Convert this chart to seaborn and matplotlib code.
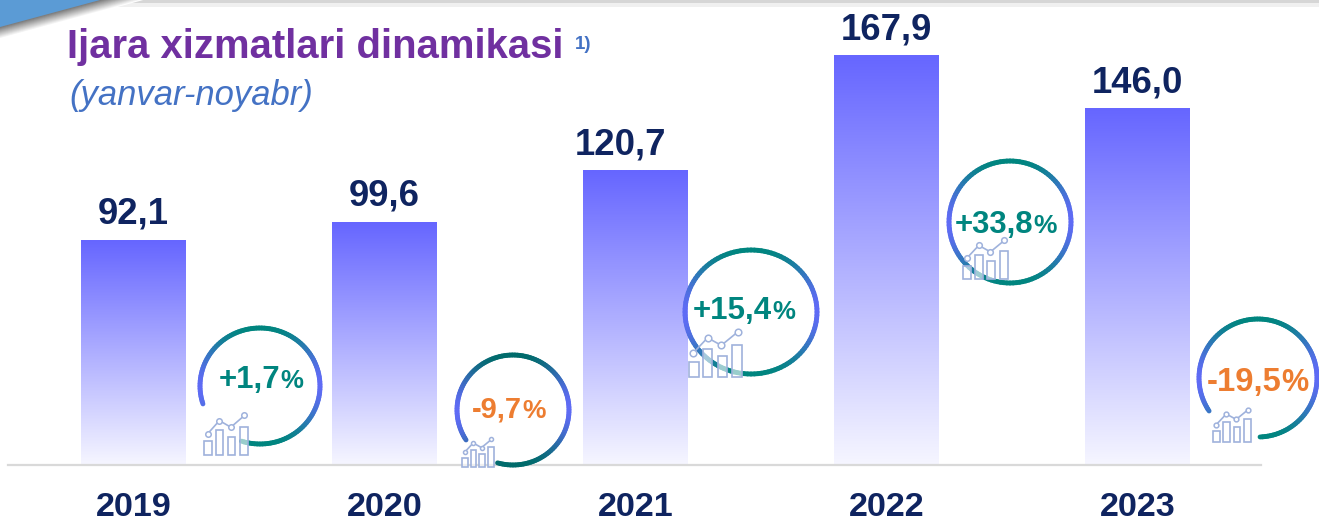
import numpy as np
import pandas as pd
import matplotlib
matplotlib.use('Agg')
import matplotlib.pyplot as plt
import seaborn as sns
from matplotlib.collections import LineCollection
from matplotlib.colors import LinearSegmentedColormap, to_rgb
from matplotlib.patches import Polygon, Rectangle

years = ['2019', '2020', '2021', '2022', '2023']
values = [92.1, 99.6, 120.7, 167.9, 146.0]
value_labels = ['92,1', '99,6', '120,7', '167,9', '146,0']
growth_labels = ['+1,7', '-9,7', '+15,4', '+33,8', '-19,5']

TEAL = '#00857f'
ORANGE = '#ed7d31'

# rings: cx, cy, rx, ry, start angle, end angle, top colour (pixels, y goes down)
rings = [
    (260, 386, 60, 58, 162, 468, '#00857f'),
    (513, 410, 56, 55, 147, 466, '#006b6b'),
    (751, 312, 66, 62, 0, 360, '#00857f'),
    (1010, 222, 61, 61, 0, 360, '#00857f'),
    (1258, 378, 59, 59, 146, 448, '#00857f'),
]
# icons: x, y, width, height
icons = [
    (204, 412, 44, 43),
    (462, 437, 32, 30),
    (689, 328, 53, 49),
    (963, 237, 45, 42),
    (1213, 407, 38, 35),
]
# percent text: x start, baseline, number size, percent size, colour
growth_style = [
    (219, 388, 22.5, 18.5, TEAL),
    (472, 418, 21, 19, ORANGE),
    (693, 319, 22.5, 18.5, TEAL),
    (955, 233, 22.4, 19, TEAL),
    (1207, 391, 23.7, 22, ORANGE),
]

sns.set_theme(style='white')
plt.rcParams['font.family'] = ['Liberation Sans', 'DejaVu Sans']

fig = plt.figure(figsize=(13.19, 5.21), dpi=100)
ax = fig.add_axes([0, 56 / 521, 1, 465 / 521])

df = pd.DataFrame({'year': years, 'value': values})
sns.barplot(data=df, x='year', y='value', width=0.418, color='#6666ff', ax=ax)

bar_cmap = LinearSegmentedColormap.from_list('bar', ['#f6f6ff', '#6666ff'])
grad = np.linspace(0, 1, 256).reshape(-1, 1)
for p in ax.patches:
    ax.imshow(grad, cmap=bar_cmap, origin='lower', aspect='auto', zorder=2,
              extent=(p.get_x(), p.get_x() + p.get_width(), 0, p.get_height()))
    p.set_alpha(0)

ax.set_xlim(-0.532, 4.723)
ax.set_ylim(0, 190.6)
labs = ax.bar_label(ax.containers[0], labels=value_labels, fontsize=26.3, fontweight='bold',
                    color='#0f2460', padding=6, zorder=3)
# the 2021 label sits left of its bar in the original
labs[2].xyann = (-11, labs[2].xyann[1])

ax.set_xlabel('')
ax.set_ylabel('')
ax.set_yticks([])
ax.tick_params(axis='x', length=0, pad=19.5, labelsize=24.6, labelcolor='#0f2460')
for t in ax.get_xticklabels():
    t.set_fontweight('bold')
sns.despine(ax=ax, left=True)
ax.spines['bottom'].set_bounds(-0.5, 4.49)
ax.spines['bottom'].set_color('#d9d9d9')
ax.spines['bottom'].set_linewidth(1.6)
ax.patch.set_alpha(0)

# overlay in pixel coordinates for the decoration and the free text
over = fig.add_axes([0, 0, 1, 1], zorder=5)
over.set_xlim(0, 1319)
over.set_ylim(521, 0)
over.axis('off')

# top left corner
over.add_patch(Rectangle((90, 0), 1229, 3, color='#d6d6d6', lw=0))
over.add_patch(Rectangle((90, 3), 1229, 4, color='#f0f0f0', lw=0))
for k in range(12, 0, -1):
    g = 0.45 + 0.55 * k / 12
    over.add_patch(Polygon([(0, 0), (100 + 3.6 * k, 0), (0, 27 + k)], color=(g, g, g), lw=0))
over.add_patch(Polygon([(0, 0), (100, 0), (0, 27)], color='#5b9bd5', lw=0))


def draw_ring(cx, cy, rx, ry, a0, a1, top):
    th = np.radians(np.linspace(a0, a1, 121))
    xs = cx + rx * np.cos(th)
    ys = cy + ry * np.sin(th)
    pts = np.column_stack([xs, ys]).reshape(-1, 1, 2)
    segs = np.concatenate([pts[:-1], pts[1:]], axis=1)
    mid = (th[:-1] + th[1:]) / 2
    t = (np.abs(np.cos(mid)) ** 3)[:, None]
    cols = np.array(to_rgb(top)) * (1 - t) + np.array(to_rgb('#5f6bf5')) * t
    over.add_collection(LineCollection(segs, colors=cols, linewidths=3.5, capstyle='round', zorder=3))


def draw_icon(x, y, w, h):
    c = '#9fb2dc'
    bars = [(0.0, 0.18, 0.685), (0.27, 0.44, 0.43), (0.54, 0.71, 0.575), (0.82, 1.0, 0.34)]
    for b0, b1, top in bars:
        over.add_patch(Rectangle((x + b0 * w, y + top * h), (b1 - b0) * w, (1 - top) * h,
                                 fc=(1, 1, 1, 0.6), ec=c, lw=1.2, zorder=4))
    lx = [0.08, 0.35, 0.61, 0.92]
    ly = [0.51, 0.2, 0.354, 0.08]
    over.plot([x + i * w for i in lx], [y + i * h for i in ly], color=c, lw=1.2, marker='o',
              ms=w * 0.09, mfc='white', mec=c, mew=1.1, zorder=5)


for r in rings:
    draw_ring(*r)
for i in icons:
    draw_icon(*i)

renderer = fig.canvas.get_renderer()
for lab, (x, y, s1, s2, col) in zip(growth_labels, growth_style):
    num = over.text(x, y, lab, fontsize=s1, fontweight='bold', color=col, va='baseline', zorder=6)
    x1 = over.transData.inverted().transform(num.get_window_extent(renderer))[1, 0]
    over.text(x1, y, '%', fontsize=s2, fontweight='bold', color=col, va='baseline', zorder=6)

over.text(67, 58, 'Ijara xizmatlari dinamikasi', fontsize=28.8, fontweight='bold',
          color='#7030a0', va='baseline')
over.text(575, 49, '1)', fontsize=13.5, fontweight='bold', color='#4472c4', va='baseline')
over.text(69, 105, '(yanvar-noyabr)', fontsize=24.9, fontstyle='italic', color='#4472c4', va='baseline')

fig.savefig('out.png', dpi=100)
